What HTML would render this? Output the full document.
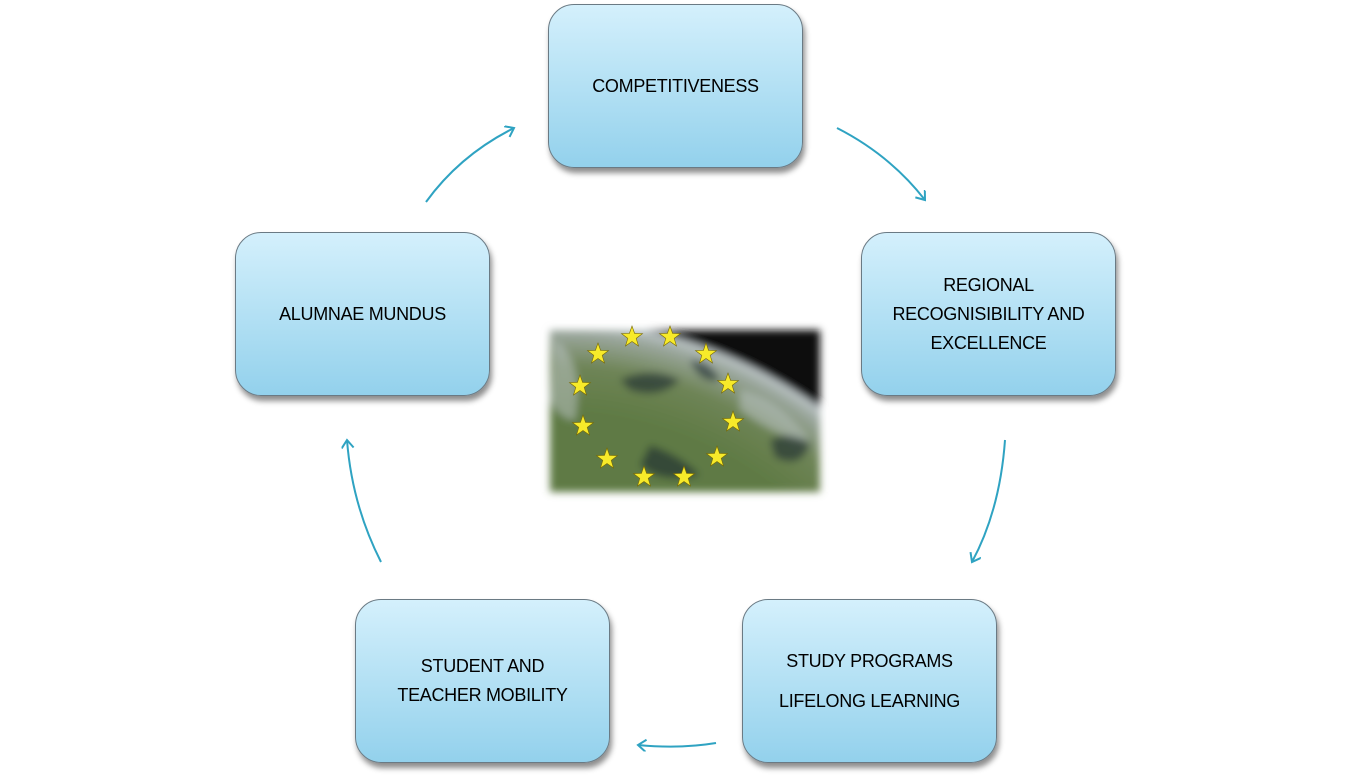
<!DOCTYPE html>
<html><head><meta charset="utf-8"><style>
html,body{margin:0;width:1352px;height:783px;overflow:hidden}
body{background:#fff;position:relative;font-family:"Liberation Sans",sans-serif}
.b{position:absolute;width:255px;height:164px;border:1px solid #6a7a84;border-radius:26px;background:linear-gradient(#d4f0fc,#93d1ec);box-shadow:2px 5px 6px rgba(0,0,0,.45);display:flex;align-items:center;justify-content:center;text-align:center;font-size:18px;line-height:29px;color:#000;box-sizing:border-box;letter-spacing:-0.3px}
</style></head><body>
<div class="b" style="left:548px;top:4px">COMPETITIVENESS</div>
<div class="b" style="left:861px;top:232px">REGIONAL<br>RECOGNISIBILITY AND<br>EXCELLENCE</div>
<div class="b" style="left:742px;top:599px;line-height:40px">STUDY PROGRAMS<br>LIFELONG LEARNING</div>
<div class="b" style="left:355px;top:599px">STUDENT AND<br>TEACHER MOBILITY</div>
<div class="b" style="left:235px;top:232px">ALUMNAE MUNDUS</div>
<svg width="1352" height="783" style="position:absolute;left:0;top:0">
<defs>
<filter id="bl"><feGaussianBlur stdDeviation="4"/></filter>
<clipPath id="c"><rect x="550" y="330" width="270" height="162"/></clipPath>
<radialGradient id="e" cx="550" cy="780" r="460" gradientUnits="userSpaceOnUse"><stop offset="0.8" stop-color="#5f7a44"/><stop offset="0.9" stop-color="#6e8456"/><stop offset="0.97" stop-color="#9aa69c"/><stop offset="1" stop-color="#c0c8cc"/></radialGradient>
<polygon id="s" points="0,-11 2.6,-3.6 10.5,-3.4 4.2,1.4 6.5,9 0,4.5 -6.5,9 -4.2,1.4 -10.5,-3.4 -2.6,-3.6" fill="#f7ea2a" stroke="#7a6a00" stroke-width=".6"/>
<marker id="a" markerWidth="14" markerHeight="14" refX="9" refY="6" orient="auto" markerUnits="userSpaceOnUse"><path d="M1,0 L9,6 L1,12" fill="none" stroke="#2fa3c2" stroke-width="2"/></marker>
</defs>
<g filter="url(#bl)"><g clip-path="url(#c)"><rect x="550" y="330" width="270" height="162" fill="#080808"/>
<circle cx="550" cy="780" r="460" fill="url(#e)"/>
<path d="M650,445 q30,10 50,30 q-40,10 -60,-10z M770,440 q25,-12 40,5 q-10,25 -35,12z M620,380 q30,-15 60,0 q-20,20 -50,10z M690,360 q20,0 30,20 q-20,5 -30,-20z" fill="#1b2a30" opacity=".6"/>
<path d="M555,340 q30,20 20,80 q-15,0 -25,-20z M740,390 q40,10 70,50 q-30,0 -70,-30z" fill="#c0c8cc" opacity=".5"/></g></g>
<g>
<use href="#s" x="632" y="337"/><use href="#s" x="670" y="337"/><use href="#s" x="598" y="354"/><use href="#s" x="706" y="354"/>
<use href="#s" x="580" y="386"/><use href="#s" x="728" y="384"/><use href="#s" x="583" y="426"/><use href="#s" x="733" y="422"/>
<use href="#s" x="607" y="459"/><use href="#s" x="717" y="457"/><use href="#s" x="644" y="477"/><use href="#s" x="684" y="477"/>
</g>
<g fill="none" stroke="#2fa3c2" stroke-width="2" marker-end="url(#a)">
<path d="M837,128 Q890,155 925,200"/>
<path d="M1005,440 Q1000,510 972,562"/>
<path d="M716,743 Q680,749 638,745"/>
<path d="M381,562 Q352,505 347,440"/>
<path d="M426,202 Q460,155 514,128"/>
</g>
</svg>
</body></html>
